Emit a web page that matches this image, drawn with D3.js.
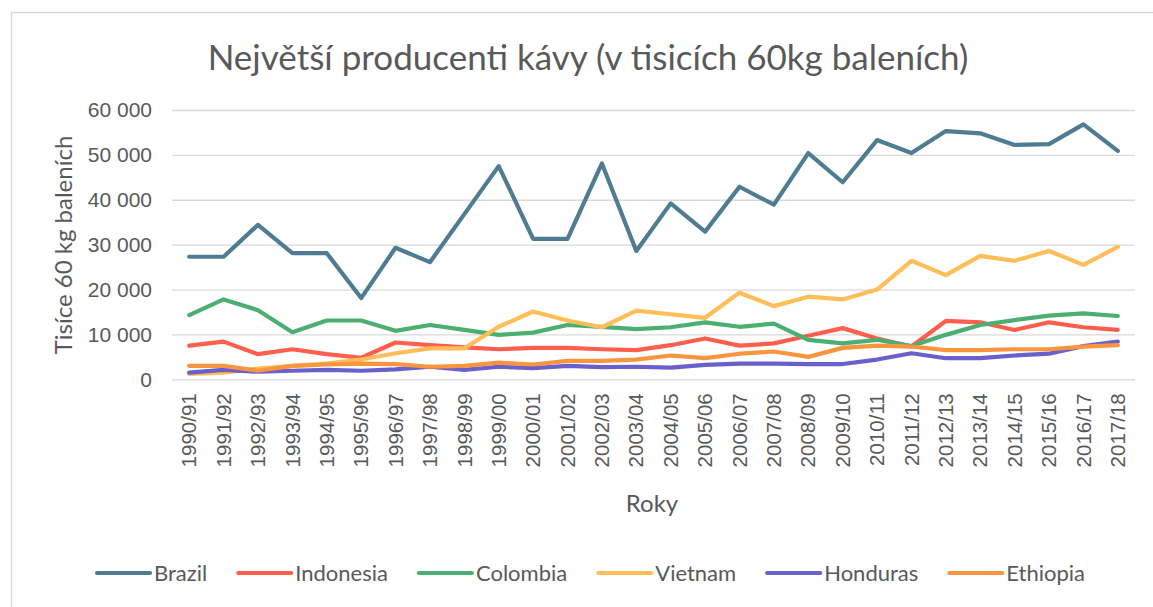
<!DOCTYPE html>
<html>
<head>
<meta charset="utf-8">
<script src="https://cdn.jsdelivr.net/npm/d3@7"></script>
<style>
  html, body { margin: 0; padding: 0; background: #fff; }
  svg { display: block; font-family: Lato, "Open Sans", sans-serif; }
</style>
</head>
<body>
<div id="chart"></div>
<script>
const W = 1153;
const H = 607;

const years = [
  "1990/91", "1991/92", "1992/93", "1993/94", "1994/95", "1995/96", "1996/97",
  "1997/98", "1998/99", "1999/00", "2000/01", "2001/02", "2002/03", "2003/04",
  "2004/05", "2005/06", "2006/07", "2007/08", "2008/09", "2009/10", "2010/11",
  "2011/12", "2012/13", "2013/14", "2014/15", "2015/16", "2016/17", "2017/18",
];

const brazil = [27300, 27300, 34400, 28100, 28100, 18100, 29300, 26100, 36800, 47500, 31300, 31300, 48100, 28600,
  39200, 32900, 42900, 38900, 50400, 43900, 53300, 50400, 55300, 54800, 52200, 52400, 56800, 50900];
const indonesia = [7500, 8400, 5600, 6700, 5600, 4800, 8200, 7600, 7100, 6700, 7000, 7000, 6700, 6500,
  7600, 9100, 7500, 8000, 9700, 11400, 9100, 7300, 13000, 12700, 11000, 12700, 11600, 11000];
const colombia = [14300, 17800, 15400, 10500, 13100, 13100, 10800, 12100, 11000, 9900, 10400, 12100, 11700, 11200,
  11600, 12700, 11700, 12400, 8800, 8000, 8800, 7400, 9900, 12100, 13200, 14200, 14700, 14100];
const vietnam = [1200, 1500, 2400, 3000, 3500, 4400, 5800, 6900, 6900, 11700, 15100, 13100, 11600, 15300,
  14500, 13700, 19300, 16300, 18400, 17800, 20000, 26400, 23200, 27500, 26400, 28600, 25500, 29500];
const honduras = [1500, 2100, 1700, 1900, 2100, 1900, 2200, 2800, 2100, 2800, 2500, 3000, 2700, 2800,
  2600, 3200, 3500, 3500, 3400, 3400, 4400, 5800, 4700, 4700, 5300, 5700, 7400, 8400];
const ethiopia = [3000, 3000, 1900, 3000, 3300, 3500, 3400, 2800, 3000, 3700, 3300, 4100, 4100, 4400,
  5300, 4700, 5700, 6200, 5000, 7000, 7500, 7300, 6500, 6500, 6700, 6700, 7300, 7600];

const yTicks = [0, 10000, 20000, 30000, 40000, 50000, 60000];

const series = [
  { name: "Brazil", values: brazil, color: "#4f7c92" },
  { name: "Indonesia", values: indonesia, color: "#ff5f4c" },
  { name: "Colombia", values: colombia, color: "#4caf72" },
  { name: "Vietnam", values: vietnam, color: "#ffbe57" },
  { name: "Honduras", values: honduras, color: "#6a5fcd" },
  { name: "Ethiopia", values: ethiopia, color: "#f8953f" },
];

const TEXT = "#595959";
const GRID = "#d9d9d9";
const plot = { left: 172, right: 1135, top: 110, bottom: 379.3 };

const czFormat = d3.formatLocale({ decimal: ",", thousands: " ", grouping: [3], currency: ["", " Kč"] }).format(",d");

const svg = d3.select("#chart").append("svg")
  .attr("width", W).attr("height", H);

// chart frame (only left/top edges fall inside the picture)
svg.append("rect")
  .attr("x", 11.5).attr("y", 12.5)
  .attr("width", W + 20).attr("height", H + 20)
  .attr("fill", "none").attr("stroke", GRID).attr("stroke-width", 1.5);

const x = d3.scaleBand().domain(years).range([plot.left, plot.right]);
const cx = (d) => x(d) + x.bandwidth() / 2;
const y = d3.scaleLinear().domain([0, 60000]).range([plot.bottom, plot.top]);

// gridlines + y labels
const yAxis = d3.axisLeft(y).tickValues(yTicks).tickSize(-(plot.right - plot.left)).tickPadding(20).tickFormat(czFormat);
const gy = svg.append("g").attr("transform", `translate(${plot.left},0)`).call(yAxis);
gy.select(".domain").remove();
gy.selectAll(".tick line").attr("stroke", GRID).attr("stroke-width", 1.3);
gy.selectAll(".tick text").attr("fill", TEXT).style("font-size", "21px").attr("x", -20);

// x labels (rotated)
const xAxis = d3.axisBottom(x).tickSize(0).tickPadding(0);
const gx = svg.append("g").attr("transform", `translate(0,${plot.bottom})`).call(xAxis);
gx.select(".domain").remove();
gx.selectAll(".tick text")
  .attr("fill", TEXT).style("font-size", "20.5px")
  .attr("transform", "rotate(-90)")
  .attr("text-anchor", "end")
  .attr("x", -14).attr("y", 0).attr("dy", "0.35em");

// lines
const line = d3.line().x((d, i) => cx(years[i])).y((d) => y(d));
svg.append("g").selectAll("path").data(series).join("path")
  .attr("d", (s) => line(s.values))
  .attr("fill", "none")
  .attr("stroke", (s) => s.color)
  .attr("stroke-width", 4.2)
  .attr("stroke-linejoin", "round")
  .attr("stroke-linecap", "round");

// title
svg.append("text")
  .attr("x", 588).attr("y", 70)
  .attr("text-anchor", "middle")
  .attr("fill", TEXT)
  .style("font-size", "35px")
  .text("Největší producenti kávy (v tisicích 60kg baleních)");

// axis titles
svg.append("text")
  .attr("transform", "translate(72,245) rotate(-90)")
  .attr("text-anchor", "middle")
  .attr("fill", TEXT).style("font-size", "24px")
  .text("Tisíce 60 kg baleních");

svg.append("text")
  .attr("x", 652).attr("y", 512)
  .attr("text-anchor", "middle")
  .attr("fill", TEXT).style("font-size", "24px")
  .text("Roky");

// legend
const legend = svg.append("g");
const items = legend.selectAll("g").data(series).join("g");
items.append("line")
  .attr("x1", 0).attr("x2", 53).attr("y1", 0).attr("y2", 0)
  .attr("stroke", (s) => s.color).attr("stroke-width", 4.2).attr("stroke-linecap", "round");
items.append("text")
  .attr("x", 57).attr("dy", "0.35em")
  .attr("fill", TEXT).style("font-size", "22px")
  .text((s) => s.name);
const widths = [];
items.each(function () { widths.push(this.getBBox().width); });
const span = 988;
const gap = (span - d3.sum(widths)) / (widths.length - 1);
let off = 0;
items.each(function (d, i) {
  d3.select(this).attr("transform", `translate(${off},0)`);
  off += widths[i] + gap;
});
legend.attr("transform", "translate(97,573)");
</script>
</body>
</html>
